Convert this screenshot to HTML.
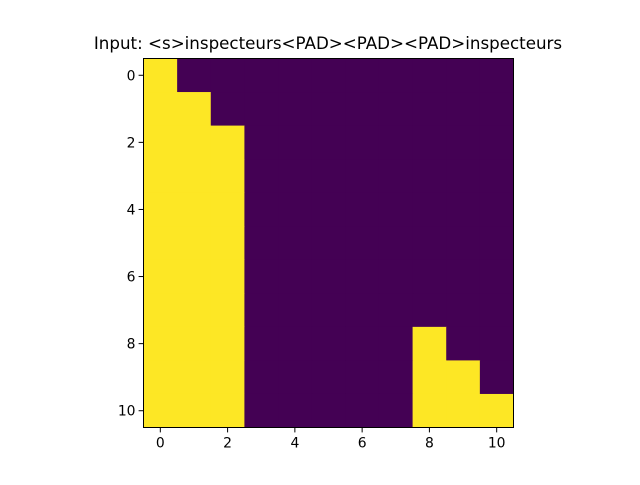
<!DOCTYPE html>
<html><head><meta charset="utf-8"><style>
body{margin:0;background:#fff;}
svg text{font-family:"DejaVu Sans","Liberation Sans",sans-serif;fill:#000;}
</style></head><body>
<svg id="chart" width="640" height="480" xmlns="http://www.w3.org/2000/svg">
<rect width="640" height="480" fill="#fff"/>
<text x="328" y="49" font-size="16.7" text-anchor="middle">Input: &lt;s&gt;inspecteurs&lt;PAD&gt;&lt;PAD&gt;&lt;PAD&gt;inspecteurs</text>
<g id="cells"></g>
<g id="ticks"></g>
<rect x="143.5" y="58.5" width="370" height="369" fill="none" stroke="#000" stroke-width="1"/>
</svg>
<script>
const rowLabels=[0,1,2,3,4,5,6,7,8,9,10];
const colLabels=[0,1,2,3,4,5,6,7,8,9,10];
const matrix=[
[1,0,0,0,0,0,0,0,0,0,0],
[1,1,0,0,0,0,0,0,0,0,0],
[1,1,1,0,0,0,0,0,0,0,0],
[1,1,1,0,0,0,0,0,0,0,0],
[1,1,1,0,0,0,0,0,0,0,0],
[1,1,1,0,0,0,0,0,0,0,0],
[1,1,1,0,0,0,0,0,0,0,0],
[1,1,1,0,0,0,0,0,0,0,0],
[1,1,1,0,0,0,0,0,1,0,0],
[1,1,1,0,0,0,0,0,1,1,0],
[1,1,1,0,0,0,0,0,1,1,1]
];
const xTicks=[0,2,4,6,8,10];
const yTicks=[0,2,4,6,8,10];
const X0=143.5,Y0=58.5,W=370,H=369;
const n=colLabels.length,m=rowLabels.length;
const cw=W/n,ch=H/m;
const xs=v=>X0+(v+0.5)*cw, ys=v=>Y0+(v+0.5)*ch;
const NS="http://www.w3.org/2000/svg";
const cells=document.getElementById('cells');
matrix.forEach((row,i)=>row.forEach((v,j)=>{
 const r=document.createElementNS(NS,'rect');
 r.setAttribute('x',xs(j)-cw/2);r.setAttribute('y',ys(i)-ch/2);
 r.setAttribute('width',cw+0.5);r.setAttribute('height',ch+0.5);
 r.setAttribute('fill',v>0.5?'#fde725':'#440154');
 
 
 cells.appendChild(r);
}));
const tk=document.getElementById('ticks');
xTicks.forEach(t=>{
 const l=document.createElementNS(NS,'line');
 l.setAttribute('x1',xs(t));l.setAttribute('x2',xs(t));l.setAttribute('y1',Y0+H);l.setAttribute('y2',Y0+H+4.9);l.setAttribute('stroke','#000');
 
 
 tk.appendChild(l);
 const tx=document.createElementNS(NS,'text');
 tx.setAttribute('x',xs(t));tx.setAttribute('y',Y0+H+20);tx.setAttribute('font-size','13.9');tx.setAttribute('text-anchor','middle');
 tx.textContent=t;
 
 
 tk.appendChild(tx);
});
yTicks.forEach(t=>{
 const l=document.createElementNS(NS,'line');
 l.setAttribute('x1',X0-4.9);l.setAttribute('x2',X0);l.setAttribute('y1',ys(t));l.setAttribute('y2',ys(t));l.setAttribute('stroke','#000');
 
 
 tk.appendChild(l);
 const tx=document.createElementNS(NS,'text');
 tx.setAttribute('x',X0-8);tx.setAttribute('y',ys(t)+5);tx.setAttribute('font-size','13.9');tx.setAttribute('text-anchor','end');
 tx.textContent=t;
 
 
 tk.appendChild(tx);
});
</script>
</body></html>
